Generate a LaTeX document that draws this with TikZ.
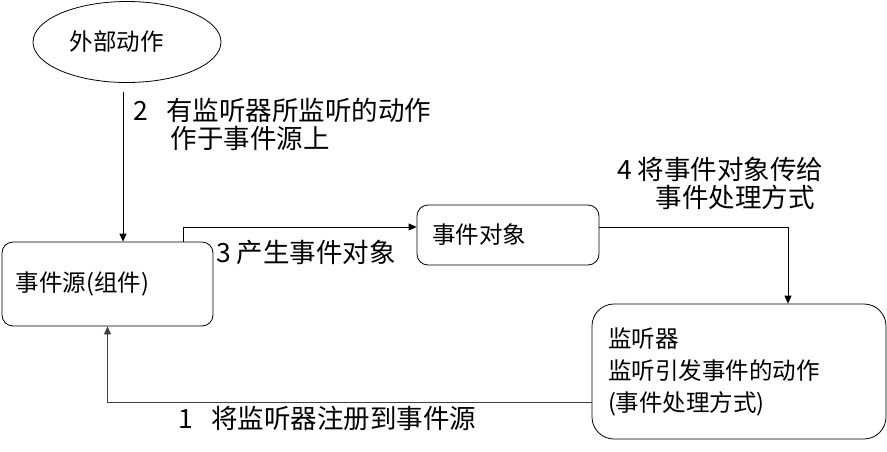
\documentclass[tikz,border=0pt]{standalone}
\usepackage{fontspec}
\newfontfamily\cjk{Noto Sans CJK SC}
\usetikzlibrary{arrows.meta,shapes.geometric,positioning,calc}
\newcommand{\boxfont}{\cjk\fontsize{23.5}{32}\selectfont}
\newcommand{\lblfont}{\cjk\fontsize{26.5}{28}\selectfont}

\begin{document}
\begin{tikzpicture}[
    x=1pt, y=-1pt,
    box/.style={draw, line width=0.8pt, rounded corners=11pt, align=left, font=\boxfont, inner ysep=0pt},
    arr/.style={-{Triangle[length=8pt,width=7pt]}, line width=0.8pt},
    lbl/.style={font=\lblfont, align=left, anchor=west, inner sep=0pt}
]
\useasboundingbox (0,0) rectangle (887,451);

\node[draw, ellipse, line width=0.8pt, minimum width=188pt, minimum height=81pt, font=\boxfont] (ext) at (127,42) {\hbox to 115pt{外部动作\hfil}};
\node[box, text width=183pt, inner xsep=14pt, minimum height=84pt] (src) at (107.5,284) {事件源(组件)};
\node[box, text width=152pt, inner xsep=15pt, minimum height=60pt] (obj) at (508,235) {事件对象};
\node[box, rounded corners=22pt, text width=262pt, inner xsep=16pt, minimum height=135pt] (lis) at (739,371.5) {监听器\\监听引发事件的动作\\(事件处理方式)};

\coordinate (start2) at (123,92);

\node[lbl] (lbl2) at (133,124) {2\hspace{0.7em}有监听器所监听的动作\\\hspace{1.42em}作于事件源上};
\node[lbl] (lbl3) at (216,252) {3 产生事件对象};
\node[lbl] (lbl4) at (617,183) {4 将事件对象传给\\\hspace{1.45em}事件处理方式};
\node[lbl] (lbl1) at (178,418) {1\hspace{0.7em}将监听器注册到事件源};

\draw[arr] (start2) -- (start2 |- src.north);
\draw[arr] ([xshift=75.5pt]src.north) |- ([yshift=8pt]obj.west);
\draw[arr] ([yshift=8pt]obj.east) -| ([xshift=49pt]lis.north);
\draw[arr, black!75] ([yshift=-30.5pt]lis.west) -| (src.south);
\end{tikzpicture}
\end{document}
